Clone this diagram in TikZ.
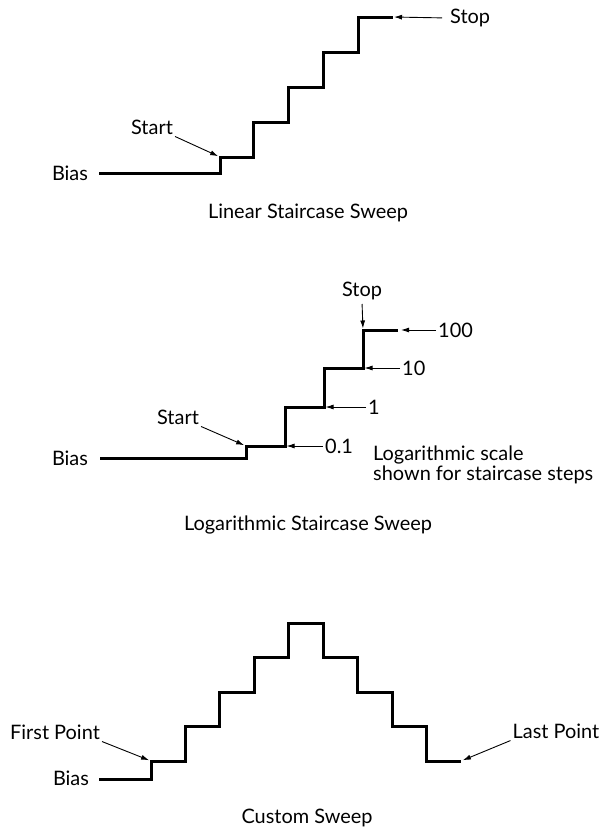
\documentclass[tikz,border=0pt]{standalone}
\usepackage{fontspec}
\setmainfont{Lato}
\usetikzlibrary{arrows.meta}

\begin{document}
\begin{tikzpicture}[x=1bp, y=-1bp,
  stair/.style={line width=3bp, line join=miter},
  pointer/.style={-{Latex[length=8bp,width=5bp]}, line width=0.9bp},
  lbl/.style={font=\fontsize{20}{20}\selectfont, inner sep=2bp}]
 \useasboundingbox (0,0) rectangle (603,829);
 % linear staircase
 \draw[stair] (99,173) -- (220,173) -- ++(0,-16) coordinate (lstart) -- ++(33,0)
   \foreach \i in {1,...,4} { |- ++(35,-35) } coordinate (lstop);
 \node[lbl] (lbias) at (70,173) {Bias};
 \node[lbl] (lstarttxt) at (152,127) {Start};
 \node[lbl, anchor=west] (lstoptxt) at (448,18) {Stop};
 \node[lbl] (lcap) at (308,213) {Linear Staircase Sweep};
 \draw[pointer, shorten >=2bp] (lstarttxt.south east) -- (lstart);
 \draw[pointer, shorten <=6bp, shorten >=1bp] (lstoptxt.west) -- (lstop);
 % logarithmic staircase
 \draw[stair] (100,458) -- (246,458) -- ++(0,-12) coordinate (gstart) -- ++(39,0) coordinate (g-1)
   |- ++(39,-39) coordinate (g-2) |- ++(39,-39) coordinate (g-3)
   -- ++(0,-38) coordinate (gstop) -- ++(35,0) coordinate (g-4);
 \node[lbl] (gbias) at (70,458) {Bias};
 \node[lbl] (gstarttxt) at (178,417) {Start};
 \node[lbl, anchor=south] (gstoptxt) at (362,302) {Stop};
 \node[lbl, anchor=west] (g1txt) at (323,446) {0.1};
 \node[lbl, anchor=west] (g2txt) at (366,407) {1};
 \node[lbl, anchor=west] (g3txt) at (400,368) {10};
 \node[lbl, anchor=west] (g4txt) at (436,330) {100};
 \node[lbl, anchor=west, align=left] (gnote) at (371,465) {Logarithmic scale\\shown for staircase steps};
 \node[lbl] (gcap) at (308,525) {Logarithmic Staircase Sweep};
 \draw[pointer, shorten >=2bp] (gstarttxt.south east) -- (gstart);
 \draw[pointer, shorten <=2bp, shorten >=1.5bp] (gstoptxt.south) -- (gstop);
 \draw[pointer, shorten >=1.5bp] (g1txt.west) -- (g-1);
 \draw[pointer, shorten >=1.5bp] (g2txt.west) -- (g-2);
 \draw[pointer, shorten >=1.5bp] (g3txt.west) -- (g-3);
 \draw[pointer, shorten >=3bp] (g4txt.west) -- (g-4);
 % custom sweep
 \draw[stair] (99,779) -- (151,779) -- ++(0,-18) coordinate (cfirst) -- ++(34,0)
   \foreach \i in {1,...,4} { |- ++(34.5,-34.5) }
   \foreach \i in {1,...,4} { |- ++(34.5,34.5) } coordinate (clast);
 \node[lbl] (cbias) at (71,778) {Bias};
 \node[lbl] (cfirsttxt) at (55,732) {First Point};
 \node[lbl] (clasttxt) at (556,731) {Last Point};
 \node[lbl] (ccap) at (307,818) {Custom Sweep};
 \draw[pointer, shorten >=2bp] (cfirsttxt.south east) -- (cfirst);
 \draw[pointer, shorten >=2bp] (clasttxt.south west) -- (clast);
\end{tikzpicture}
\end{document}
